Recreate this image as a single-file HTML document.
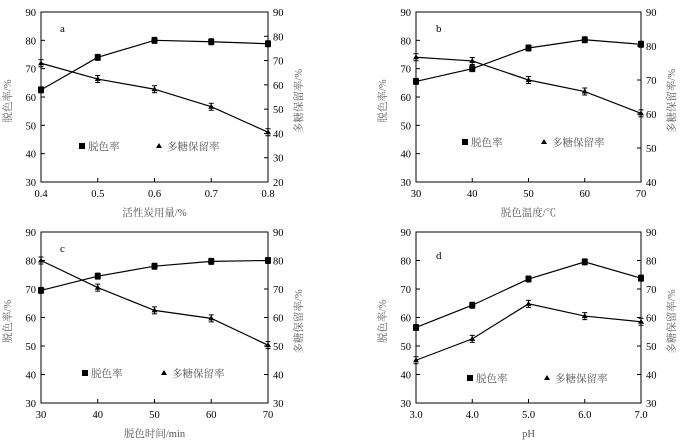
<!DOCTYPE html>
<html><head><meta charset="utf-8"><style>
html,body{margin:0;padding:0;background:#fff;}
svg{display:block;font-family:"Liberation Serif","Noto Serif CJK SC",serif;}
</style></head><body>
<svg id="chart" width="696" height="443" viewBox="0 0 696 443" xmlns="http://www.w3.org/2000/svg"></svg>
<script>
// Panel a
const catsA = [0.4, 0.5, 0.6, 0.7, 0.8];
const decolA = [62.5, 74, 80, 79.5, 78.8];
const retainA = [68.9, 62.4, 58.2, 51, 40.5];
const xTicksA = ["0.4","0.5","0.6","0.7","0.8"];
// Panel b
const catsB = [30, 40, 50, 60, 70];
const decolB = [65.5, 70, 77.3, 80.2, 78.6];
const retainB = [76.7, 75.6, 70, 66.6, 60.2];
const xTicksB = ["30","40","50","60","70"];
// Panel c
const catsC = [30, 40, 50, 60, 70];
const decolC = [69.5, 74.5, 78, 79.7, 80];
const retainC = [80, 70.5, 62.5, 59.7, 50.3];
const xTicksC = ["30","40","50","60","70"];
// Panel d
const catsD = [3, 4, 5, 6, 7];
const decolD = [56.5, 64.3, 73.5, 79.5, 73.8];
const retainD = [45, 52.5, 64.8, 60.5, 58.5];
const xTicksD = ["3.0","4.0","5.0","6.0","7.0"];

const svg = document.getElementById('chart');
const NS = 'http://www.w3.org/2000/svg';
function mk(tag, attrs, parent, text){
  const e = document.createElementNS(NS, tag);
  for (const k in attrs) e.setAttribute(k, attrs[k]);
  if (text !== undefined) e.textContent = text;
  parent.appendChild(e);
  return e;
}

const panels = [
  {id:'a', x0:41, x1:268, y0:12, y1:182, cats:catsA, d:decolA, r:retainA, xt:xTicksA, rmin:20, rmax:90, title:'活性炭用量/%', lab:[60,32], leg:[82,146,159]},
  {id:'b', x0:416, x1:641, y0:12, y1:182, cats:catsB, d:decolB, r:retainB, xt:xTicksB, rmin:40, rmax:90, title:'脱色温度/℃', lab:[436,32], leg:[465,142,544]},
  {id:'c', x0:41, x1:268, y0:232, y1:403, cats:catsC, d:decolC, r:retainC, xt:xTicksC, rmin:30, rmax:90, title:'脱色时间/min', lab:[60,252], leg:[85,373,164]},
  {id:'d', x0:416, x1:641, y0:232, y1:403, cats:catsD, d:decolD, r:retainD, xt:xTicksD, rmin:30, rmax:90, title:'pH', lab:[436,259], leg:[470,378,547]}
];

panels.forEach(p => {
  const g = mk('g', {}, svg);
  
  
  const cmin = p.cats[0], cmax = p.cats[p.cats.length-1];
  const xs = v => p.x0 + (v - cmin) / (cmax - cmin) * (p.x1 - p.x0);
  const yl = v => p.y1 - (v - 30) / 60 * (p.y1 - p.y0);
  const yr = v => p.y1 - (v - p.rmin) / (p.rmax - p.rmin) * (p.y1 - p.y0);
  const frame = mk('rect', {x:p.x0, y:p.y0, width:p.x1-p.x0, height:p.y1-p.y0, fill:'none', stroke:'#000', 'stroke-width':1}, g);
  
  
  for (let v = 30; v <= 90; v += 10) {
    const y = yl(v);
    mk('line', {x1:p.x0, x2:p.x0+4, y1:y, y2:y, stroke:'#000'}, g);
    const t = mk('text', {x:p.x0-5, y:y+4, 'text-anchor':'end', 'font-size':10.5}, g, String(v));
    
    
  }
  for (let v = p.rmin; v <= p.rmax; v += 10) {
    const y = yr(v);
    mk('line', {x1:p.x1-4, x2:p.x1, y1:y, y2:y, stroke:'#000'}, g);
    const t = mk('text', {x:p.x1+5, y:y+4, 'text-anchor':'start', 'font-size':10.5}, g, String(v));
    
    
  }
  p.cats.forEach((c, i) => {
    const x = xs(c);
    mk('line', {x1:x, x2:x, y1:p.y1, y2:p.y1-4, stroke:'#000'}, g);
    const t = mk('text', {x:x, y:p.y1+15, 'text-anchor':'middle', 'font-size':10.5}, g, p.xt[i]);
    
    
  });
  const xt = mk('text', {x:(p.x0+p.x1)/2, y:p.y1+34, 'text-anchor':'middle', 'font-size':10.5, fill:'#555'}, g, p.title);
  
  
  const cy = (p.y0+p.y1)/2;
  const ly = mk('text', {x:p.x0-30, y:cy+4, 'text-anchor':'middle', 'font-size':10.5, fill:'#666', transform:`rotate(-90 ${p.x0-30} ${cy+4})`}, g, '脱色率/%');
  
  
  const ry = mk('text', {x:p.x1+34, y:cy+4, 'text-anchor':'middle', 'font-size':10.5, fill:'#666', transform:`rotate(-90 ${p.x1+34} ${cy+4})`}, g, '多糖保留率/%');
  
  
  const lab = mk('text', {x:p.lab[0], y:p.lab[1], 'font-size':11}, g, p.id);
  
  
  const ptsD = p.cats.map((c,i) => xs(c)+','+yl(p.d[i])).join(' ');
  const ptsR = p.cats.map((c,i) => xs(c)+','+yr(p.r[i])).join(' ');
  const l1 = mk('polyline', {points:ptsD, fill:'none', stroke:'#000', 'stroke-width':1.2}, g);
  
  
  const l2 = mk('polyline', {points:ptsR, fill:'none', stroke:'#000', 'stroke-width':1.2}, g);
  
  
  p.cats.forEach((c,i) => {
    const x = xs(c), y = yl(p.d[i]);
    mk('path', {d:`M${x-2.5} ${y-3}H${x+2.5}M${x} ${y-3}V${y+3}M${x-2.5} ${y+3}H${x+2.5}`, stroke:'#000', fill:'none'}, g);
    const s = mk('rect', {x:x-3, y:y-3, width:6, height:6, fill:'#000'}, g);
    
    
    const y2 = yr(p.r[i]);
    mk('path', {d:`M${x-2.5} ${y2-3.5}H${x+2.5}M${x} ${y2-3.5}V${y2+3.5}M${x-2.5} ${y2+3.5}H${x+2.5}`, stroke:'#000', fill:'none'}, g);
    const tr = mk('polygon', {points:`${x},${y2-3} ${x-3},${y2+2} ${x+3},${y2+2}`, fill:'#000'}, g);
    
    
  });
  const lg = mk('g', {}, g);
  
  
  mk('rect', {x:p.leg[0]-3, y:p.leg[1]-3, width:6, height:6, fill:'#000'}, lg);
  mk('text', {x:p.leg[0]+6, y:p.leg[1]+4, 'font-size':10.5, fill:'#555'}, lg, '脱色率');
  mk('polygon', {points:`${p.leg[2]},${p.leg[1]-3} ${p.leg[2]-3},${p.leg[1]+2} ${p.leg[2]+3},${p.leg[1]+2}`, fill:'#000'}, lg);
  mk('text', {x:p.leg[2]+8, y:p.leg[1]+4, 'font-size':10.5, fill:'#555'}, lg, '多糖保留率');
});
</script>
</body></html>
